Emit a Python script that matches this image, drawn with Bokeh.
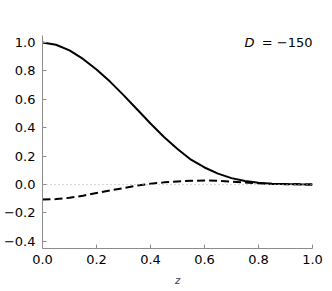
from bokeh.plotting import figure
from bokeh.models import Range1d, Label, Span
from bokeh.embed import file_html
from bokeh.resources import INLINE

# data
z_solid = [0.0, 0.05, 0.1, 0.15, 0.2, 0.25, 0.3, 0.35, 0.4, 0.45, 0.5, 0.55,
           0.6, 0.65, 0.7, 0.75, 0.8, 0.85, 0.9, 0.95, 1.0]
f_solid = [1.0, 0.985, 0.945, 0.885, 0.81, 0.725, 0.63, 0.53, 0.43, 0.335, 0.25,
           0.175, 0.12, 0.077, 0.045, 0.024, 0.012, 0.006, 0.003, 0.001, 0.0]
z_dash = [0.0, 0.05, 0.1, 0.15, 0.2, 0.25, 0.3, 0.35, 0.4, 0.45, 0.5, 0.55,
          0.6, 0.65, 0.7, 0.75, 0.8, 0.85, 0.9, 0.95, 1.0]
f_dash = [-0.106, -0.103, -0.094, -0.079, -0.06, -0.042, -0.025, -0.008, 0.005,
          0.015, 0.022, 0.026, 0.028, 0.026, 0.021, 0.014, 0.008, 0.004, 0.002, 0.001, 0.0]
x_ticks = [0.0, 0.2, 0.4, 0.6, 0.8, 1.0]
y_ticks = [-0.4, -0.2, 0.0, 0.2, 0.4, 0.6, 0.8, 1.0]
label_D = "D"
label_val = "= \u2212150"
x_label = "z"

FONT = "DejaVu Sans"
AXC = "#8c8c8c"

p = figure(width=324, height=288, output_backend="svg", toolbar_location=None,
           x_range=Range1d(0.0, 1.0), y_range=Range1d(-0.451, 1.05),
           min_border_left=39, min_border_right=12, min_border_top=35,
           min_border_bottom=40)
p.outline_line_color = None
p.xgrid.visible = False
p.ygrid.visible = False
p.background_fill_color = "white"
p.border_fill_color = "white"

zero = Span(location=0.0, dimension="width", line_color="#b0b0b0",
            line_width=1, line_dash="1 3")
p.add_layout(zero)

p.line(z_dash, f_dash, line_color="black", line_width=2, line_dash="8 4")
p.line(z_solid, f_solid, line_color="black", line_width=2)

for ax in (p.xaxis[0], p.yaxis[0]):
    ax.axis_line_color = AXC
    ax.major_tick_line_color = AXC
    ax.major_tick_in = 4
    ax.major_tick_out = 0
    ax.minor_tick_line_color = None
    ax.major_label_text_font = FONT
    ax.major_label_text_font_size = "13px"
    ax.major_label_text_color = "black"

p.xaxis.ticker = x_ticks
p.yaxis.ticker = y_ticks
p.xaxis.major_label_overrides = {t: f"{t:.1f}" for t in x_ticks}
p.yaxis.major_label_overrides = {t: f"{t:.1f}".replace("-", "\u2212") for t in y_ticks}
p.xaxis.major_label_standoff = 6
p.yaxis.major_label_standoff = 7
p.xaxis.axis_label = x_label
p.xaxis.axis_label_text_font = FONT
p.xaxis.axis_label_text_font_style = "italic"
p.xaxis.axis_label_text_font_size = "10px"
p.xaxis.axis_label_standoff = 8

p.add_layout(Label(x=1.0, y=1.0, text=label_val, text_align="right",
                   text_baseline="middle", text_font=FONT,
                   text_font_size="13px", text_color="black"))
p.add_layout(Label(x=1.0, y=1.0, x_offset=-58, text=label_D, text_align="right",
                   text_baseline="middle", text_font=FONT, text_font_style="italic",
                   text_font_size="13px", text_color="black"))

open("out.html", "w").write(file_html(p, INLINE))
